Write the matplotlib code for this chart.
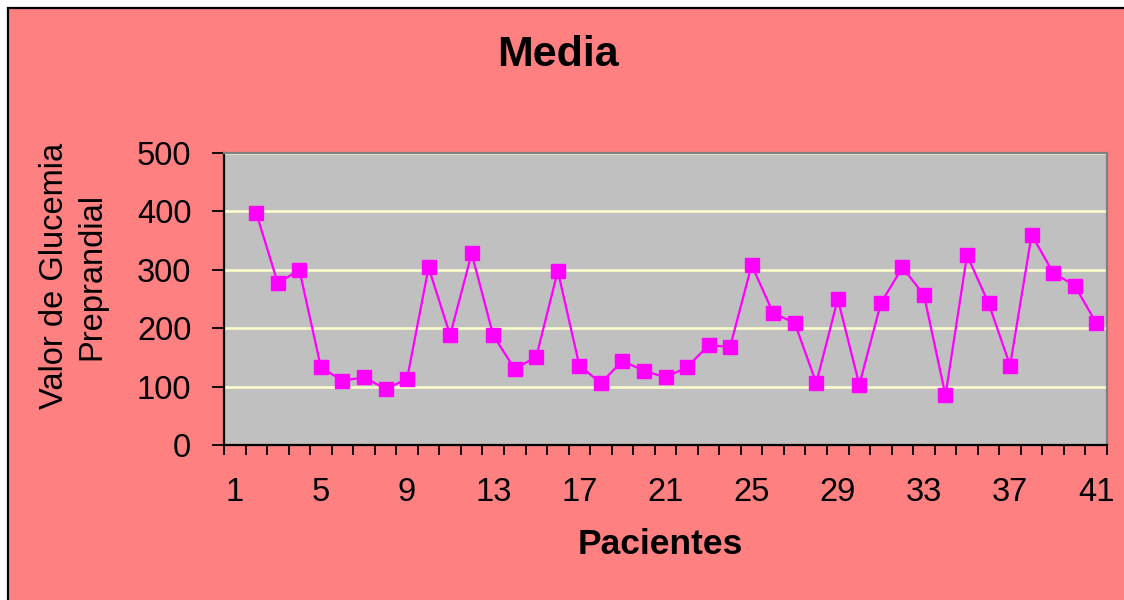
"""
Line chart of the mean preprandial glucose value per patient.
Excel-like styling: salmon chart area, grey plot area, magenta squares.
"""

import numpy as np
import matplotlib
matplotlib.use("Agg")
import matplotlib.pyplot as plt
from matplotlib.patches import Rectangle
from matplotlib.ticker import FixedLocator

plt.rcParams["font.family"] = ["Liberation Sans", "DejaVu Sans"]

# patients 1..41 (patient 1 has no value)
pacientes = list(range(1, 42))
glucemia = [
    np.nan, 397, 277, 300, 133, 110, 116, 96, 113, 304,
    188, 328, 188, 130, 151, 298, 136, 106, 144, 127,
    116, 133, 171, 168, 308, 226, 209, 106, 250, 103,
    243, 304, 257, 85, 325, 243, 136, 360, 295, 273,
    209,
]
x_labels = [1, 5, 9, 13, 17, 21, 25, 29, 33, 37, 41]
y_ticks = [0, 100, 200, 300, 400, 500]

W, H = 1124, 600
fig = plt.figure(figsize=(W / 100, H / 100), dpi=100, facecolor="white")

# chart area background with black border
chart_bg = Rectangle(
    (8 / W, -0.1), 1.2, 1 - 8 / H + 0.1,
    transform=fig.transFigure,
    facecolor="#FF8080", edgecolor="black", linewidth=1.6, zorder=-1
)
fig.patches.append(chart_bg)

# plot area placed in pixel units
left, right, top, bottom = 224, 1107, 153, 445
ax = fig.add_axes([left / W, 1 - bottom / H, (right - left) / W, (bottom - top) / H])
ax.set_zorder(1)
ax.set_facecolor("#C0C0C0")

ax.plot(
    pacientes, glucemia,
    color="#FF00FF", linewidth=1.6,
    marker="s", markersize=9.5,
    markerfacecolor="#FF00FF", markeredgecolor="#FF00FF",
    zorder=3
)

# category axis: one slot per patient, ticks between slots
ax.set_xlim(0.5, 41.5)
ax.xaxis.set_major_locator(FixedLocator(x_labels))
ax.xaxis.set_minor_locator(FixedLocator(np.arange(0.5, 42.0, 1.0)))
ax.tick_params(axis="x", which="major", length=0, pad=23, labelsize=23.5)
ax.tick_params(axis="x", which="minor", direction="out", length=7, width=1.3, color="black")

ax.set_ylim(0, 500)
ax.set_yticks(y_ticks)
ax.tick_params(axis="y", which="major", direction="out", length=8.5, width=1.3,
               pad=15, labelsize=23.5)

# horizontal gridlines
ax.yaxis.grid(True, color="#FFFFCC", linewidth=1.8)
ax.set_axisbelow(True)

for side in ["left", "bottom"]:
    ax.spines[side].set_color("black")
    ax.spines[side].set_linewidth(1.6)
for side in ["top", "right"]:
    ax.spines[side].set_color("#808080")
    ax.spines[side].set_linewidth(1.6)

# titles
fig.text(558 / W, 1 - 55 / H, "Media", ha="center", va="center",
         fontsize=31, fontweight="bold")
fig.text(660 / W, 1 - 545 / H, "Pacientes", ha="center", va="center",
         fontsize=25.5, fontweight="bold")
fig.text(73 / W, 1 - 276 / H, "Valor de Glucemia\nPreprandial",
         ha="center", va="center", rotation=90, multialignment="center",
         fontsize=23.5, linespacing=1.25)

fig.savefig("out.png", dpi=100, facecolor=fig.get_facecolor())
